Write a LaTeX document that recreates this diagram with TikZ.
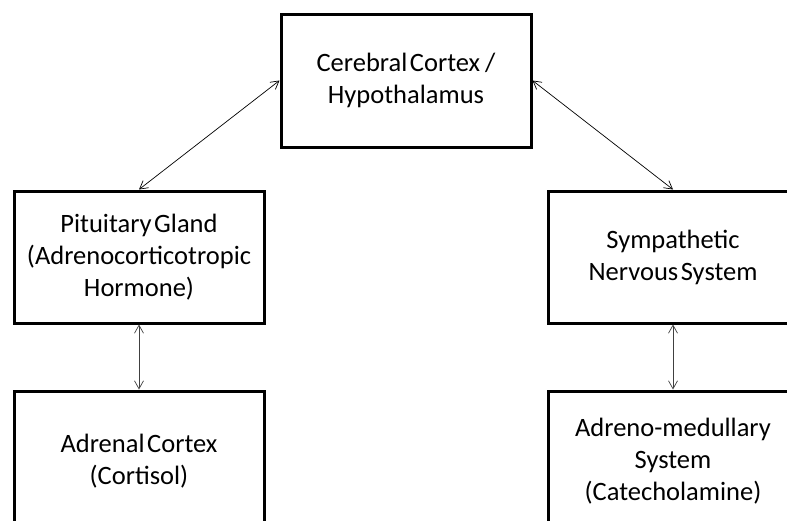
\documentclass[tikz,border=0pt]{standalone}
\usepackage{fontspec}
\setmainfont{Carlito}
\usetikzlibrary{arrows.meta}
\newcommand\organfont{\fontsize{26.5}{32}\selectfont\spaceskip=2.6pt plus 1pt\relax}

\begin{document}
\begin{tikzpicture}[x=1pt,y=-1pt,
    organ/.style={draw=black,line width=3pt,align=center,inner sep=0pt,
      minimum width=250pt,minimum height=132pt,font=\organfont},
    link/.style={black,line width=0.7pt,
      {Straight Barb[length=8pt,width=9pt]}-{Straight Barb[length=8pt,width=9pt]}}]
  \useasboundingbox (0,0) rectangle (787,520);
  \clip (0,0) rectangle (787,520);

  \node[organ,minimum height=133pt] (cortex) at (406,80.5) {Cerebral Cortex\hspace{5pt}/\\Hypothalamus};

  \node[organ] (pituitary) at (139,257) {Pituitary Gland\\(Adrenocorticotropic\\Hormone)};
  \node[organ] (sympathetic) at (673,257) {Sympathetic\\Nervous System};

  \node[organ,minimum height=140pt] (adrenal) at (139,461) {Adrenal Cortex\\(Cortisol)};
  \node[organ,minimum height=140pt] (medulla) at (673,461) {Adreno-medullary\\System\\(Catecholamine)};

  \draw[link] (cortex.west) -- (pituitary.north);
  \draw[link] (cortex.east) -- (sympathetic.north);
  \draw[link,black!75] (pituitary.south) -- (adrenal.north);
  \draw[link,black!75] (sympathetic.south) -- (medulla.north);
\end{tikzpicture}
\end{document}
